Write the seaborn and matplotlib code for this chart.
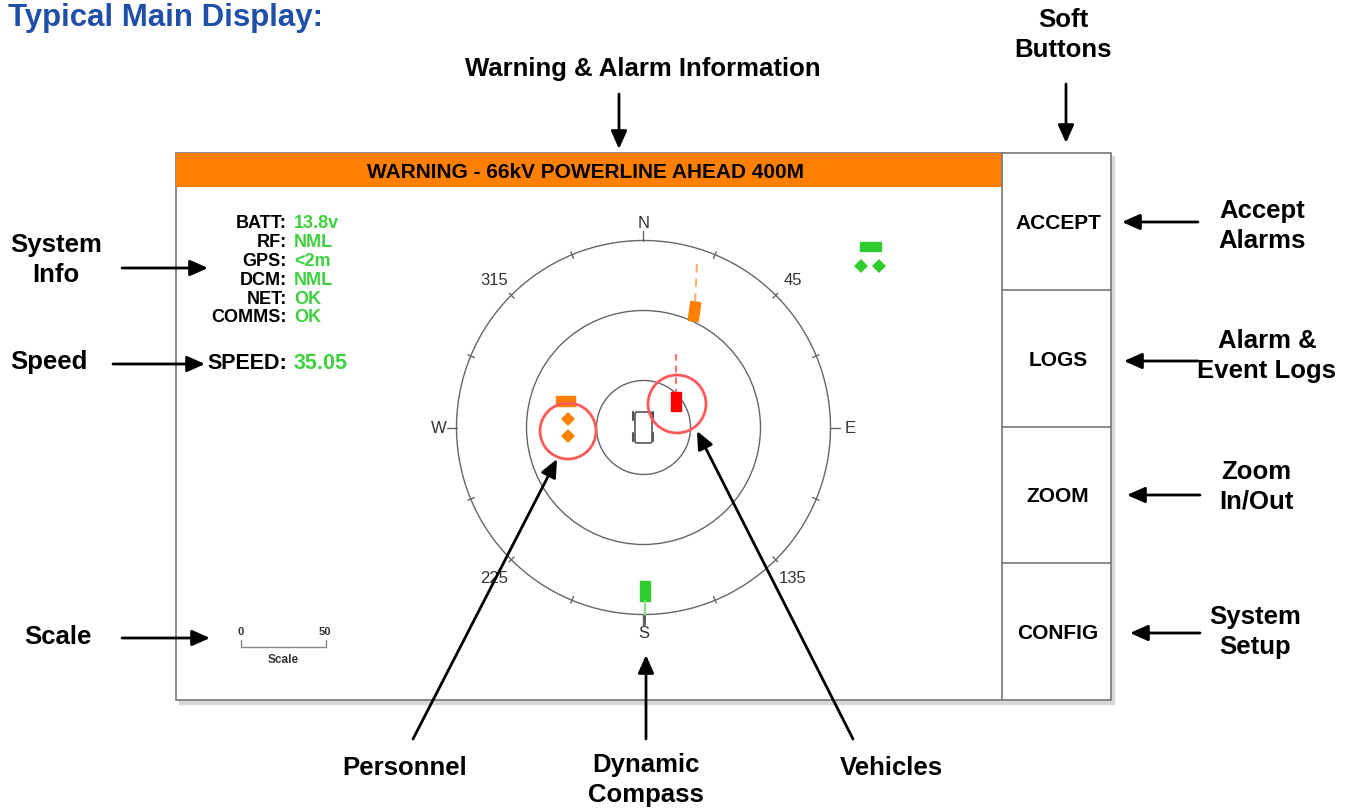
import numpy as np
import pandas as pd
import matplotlib.pyplot as plt
import matplotlib.patches as mpatches
import seaborn as sns

# ---- content of the display ----
info_labels = ["BATT:", "RF:", "GPS:", "DCM:", "NET:", "COMMS:"]
info_values = ["13.8v", "NML", "<2m", "NML", "OK", "OK"]
speed_value = "35.05"
warning_text = "WARNING - 66kV POWERLINE AHEAD 400M"
buttons = ["ACCEPT", "LOGS", "ZOOM", "CONFIG"]
cardinals = ["N", "E", "S", "W"]
bearings = ["45", "135", "225", "315"]
ring_radii = [47, 117, 187]
scale_ticks = ["0", "50"]

# markers: personnel diamonds (x, y, colour group)
pers_x = [568, 568, 861, 879]
pers_y = [420, 437, 267, 267]
pers_kind = ["orange", "orange", "green", "green"]

# callouts (text, text x, text y, arrow start, arrow end)
callouts = [
    ("Warning & Alarm Information", 643, 69, (619, 95), (619, 150)),
    ("Soft\nButtons", 1063, 35, (1066, 85), (1066, 144)),
    ("System\nInfo", 56, 260, (122, 269), (208, 269)),
    ("Speed", 49, 362, (113, 365), (205, 365)),
    ("Scale", 58, 637, (122, 639), (210, 639)),
    ("Accept\nAlarms", 1262, 226, (1198, 223), (1122, 223)),
    ("Alarm &\nEvent Logs", 1267, 356, (1198, 362), (1124, 362)),
    ("Zoom\nIn/Out", 1256, 487, (1200, 496), (1127, 496)),
    ("System\nSetup", 1255, 632, (1200, 634), (1130, 634)),
    ("Personnel", 405, 768, (413, 740), (557, 460)),
    ("Dynamic\nCompass", 646, 780, (646, 740), (646, 656)),
    ("Vehicles", 891, 768, (853, 740), (697, 432)),
]

sns.set_theme(style="white")
plt.rcParams['font.family'] = ['Liberation Sans', 'DejaVu Sans']
plt.rcParams['text.color'] = 'black'

fig = plt.figure(figsize=(13.58, 8.12), dpi=100)
fig.set_facecolor('white')
ax = fig.add_axes([0, 0, 1, 1])
ax.set_xlim(0, 1358)
ax.set_ylim(812, 0)
ax.set_aspect('equal')
ax.axis('off')

ORANGE = '#ff8000'
GREEN = '#2ecc2e'
TGREEN = '#3dd13d'

ax.text(8, 18, "Typical Main Display:", color='#1f4fa8', fontsize=22.5,
        fontweight='bold', va='center', ha='left')

# screen with shadow
ax.add_patch(mpatches.Rectangle((179, 157), 935, 548, color='#d8d8d8', zorder=0))
ax.add_patch(mpatches.Rectangle((176, 154), 935, 547, facecolor='white',
                                edgecolor='#777777', lw=1.2, zorder=1))
ax.add_patch(mpatches.Rectangle((176, 154), 826, 34, facecolor=ORANGE,
                                edgecolor='none', zorder=2))
ax.text(586, 172, warning_text, fontsize=15, fontweight='bold', ha='center',
        va='center', zorder=3)

# soft buttons
ax.plot([1002, 1002], [154, 701], color='#777777', lw=1.2, zorder=3)
btn_edges = np.linspace(154, 701, len(buttons) + 1)
for i, b in enumerate(buttons):
    if i > 0:
        ax.plot([1002, 1111], [btn_edges[i], btn_edges[i]], color='#777777',
                lw=1.2, zorder=3)
    ax.text(1058, (btn_edges[i] + btn_edges[i + 1]) / 2 + 1, b, fontsize=15,
            fontweight='bold', ha='center', va='center', zorder=3)

# system info
for i, (lab, val) in enumerate(zip(info_labels, info_values)):
    y = 224 + i * 18.8
    ax.text(287, y, lab, fontsize=13, fontweight='bold', ha='right', va='center')
    ax.text(294, y, val, fontsize=13, fontweight='bold', ha='left', va='center',
            color=TGREEN)
ax.text(287, 364, "SPEED:", fontsize=15.5, fontweight='bold', ha='right', va='center')
ax.text(294, 364, speed_value, fontsize=15.5, fontweight='bold', ha='left',
        va='center', color=TGREEN)

# scale bar
ax.plot([241, 241, 326, 326], [641, 648, 648, 641], color='#888888', lw=1)
ax.text(241, 632, scale_ticks[0], fontsize=8, fontweight='bold', ha='center', va='center', color='#333333')
ax.text(325, 632, scale_ticks[1], fontsize=8, fontweight='bold', ha='center', va='center', color='#333333')
ax.text(283, 660, "Scale", fontsize=8.5, fontweight='bold', ha='center', va='center', color='#333333')

# compass
cx, cy = 643.5, 428.5
for r in ring_radii:
    ax.add_patch(mpatches.Circle((cx, cy), r, fill=False, edgecolor='#666666', lw=1))
R = ring_radii[-1]
for k in range(16):
    a = np.deg2rad(k * 22.5)
    sx, sy = np.sin(a), -np.cos(a)
    if k % 4 == 0:
        r0, r1 = R, R + 10
    else:
        r0, r1 = R - 4, R + 3
    ax.plot([cx + r0 * sx, cx + r1 * sx], [cy + r0 * sy, cy + r1 * sy],
            color='#666666', lw=1)
for k, lab in enumerate(cardinals):
    a = np.deg2rad(k * 90)
    rr = R + 18
    ax.text(cx + rr * np.sin(a) + (2 if k == 1 else 0), cy - rr * np.cos(a), lab,
            fontsize=12, ha='center', va='center', color='#333333')
for lab in bearings:
    a = np.deg2rad(float(lab))
    rr = R + 24
    ax.text(cx + rr * np.sin(a), cy - rr * np.cos(a) + 1, lab, fontsize=12,
            ha='center', va='center', color='#333333')

# own vehicle
ax.add_patch(mpatches.FancyBboxPatch((635, 413), 17, 31, boxstyle='round,pad=0,rounding_size=2',
                                     fill=False, edgecolor='#555555', lw=1.2))
for wx in (633.5, 653.5):
    for wy in (417, 438):
        ax.plot([wx, wx], [wy - 4, wy + 4], color='#555555', lw=1.5)

# vehicles
ax.plot([697, 695], [265, 303], color='#ffb070', lw=1.5, ls=(0, (4, 3)))
ax.add_patch(mpatches.Rectangle((689.5, 303), 10, 19, angle=8, rotation_point='center',
                                color=ORANGE))
ax.plot([676, 676], [355, 393], color='#ff5555', lw=1.2, ls=(0, (4, 3)))
ax.add_patch(mpatches.Rectangle((671, 393), 10, 19, color='#ff0000'))
ax.plot([645, 645], [602, 620], color='#88e088', lw=1.5)
ax.plot([645, 645], [617, 626], color='#444444', lw=1.2)
ax.add_patch(mpatches.Rectangle((640, 582), 10, 20, color=GREEN))
ax.add_patch(mpatches.Rectangle((556, 397), 19, 10, color=ORANGE))
ax.add_patch(mpatches.Rectangle((860, 243), 21, 9, color=GREEN))

# personnel diamonds
df = pd.DataFrame({'x': pers_x, 'y': pers_y, 'kind': pers_kind})
sns.scatterplot(data=df, x='x', y='y', hue='kind', marker='D', s=50,
                palette={'orange': ORANGE, 'green': GREEN}, edgecolor='none',
                legend=False, ax=ax, zorder=5)

# highlight rings
ax.add_patch(mpatches.Circle((568, 432), 28, fill=False, edgecolor='#ff5a5a', lw=2, zorder=6))
ax.add_patch(mpatches.Circle((677, 405), 29, fill=False, edgecolor='#ff5a5a', lw=2, zorder=6))

# callouts
for txt, tx, ty, start, end in callouts:
    ax.text(tx, ty, txt, fontsize=18.5, fontweight='bold', ha='center', va='center',
            linespacing=1.3)
    ax.annotate('', xy=end, xytext=start,
                arrowprops=dict(arrowstyle='-|>,head_length=0.9,head_width=0.4',
                                lw=2, color='black', shrinkA=0, shrinkB=0), zorder=7)

ax.set_xlim(0, 1358)
ax.set_ylim(812, 0)
ax.set_xlabel('')
ax.set_ylabel('')
fig.savefig('out.png', dpi=100, facecolor='white')
